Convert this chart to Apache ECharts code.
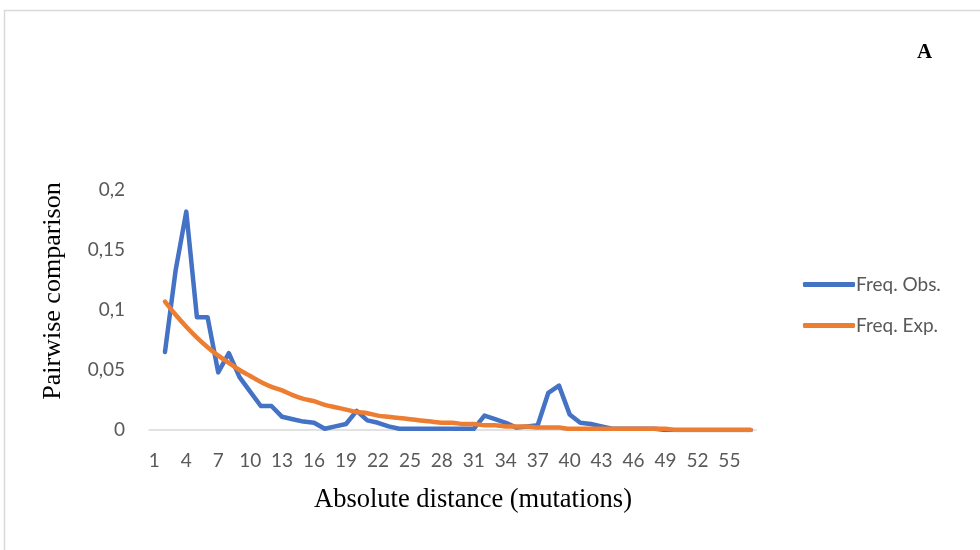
<!DOCTYPE html>
<html>
<head>
<meta charset="utf-8">
<script src="https://cdn.jsdelivr.net/npm/echarts@6/dist/echarts.min.js"></script>
<style>
html,body{margin:0;padding:0;background:#fff;}
#chart{width:980px;height:550px;}
</style>
</head>
<body>
<div id="chart"></div>
<script>
// Categories: absolute distance (mutations) 1..57
var categories = [];
for (var i = 1; i <= 57; i++) categories.push(String(i));

// Observed frequency (cat 1 .. 57)
var freqObs = [
  null, 0.065, 0.133, 0.182, 0.094, 0.094, 0.048, 0.064, 0.044, 0.032,
  0.020, 0.020, 0.011, 0.009, 0.007, 0.006, 0.001, 0.003, 0.005, 0.016,
  0.008, 0.006, 0.003, 0.001, 0.001, 0.001, 0.001, 0.001, 0.001, 0.001,
  0.001, 0.012, 0.009, 0.006, 0.002, 0.003, 0.004, 0.031, 0.037, 0.013,
  0.006, 0.005, 0.003, 0.001, 0.001, 0.001, 0.001, 0.001, 0, 0,
  0, 0, 0, 0, 0, 0, 0
];

// Expected frequency (cat 1 .. 57)
var freqExp = [
  null, 0.107, 0.096, 0.086, 0.077, 0.069, 0.062, 0.056, 0.050, 0.045,
  0.040, 0.036, 0.033, 0.029, 0.026, 0.024, 0.021, 0.019, 0.017, 0.015,
  0.014, 0.012, 0.011, 0.010, 0.009, 0.008, 0.007, 0.006, 0.006, 0.005,
  0.005, 0.004, 0.004, 0.003, 0.003, 0.003, 0.002, 0.002, 0.002, 0.001,
  0.001, 0.001, 0.001, 0.001, 0.001, 0.001, 0.001, 0.001, 0.001, 0,
  0, 0, 0, 0, 0, 0, 0
];

var yTicks = [0, 0.05, 0.1, 0.15, 0.2];

var chart = echarts.init(document.getElementById('chart'), null, {renderer: 'canvas'});
var grey = '#595959';
var labelFont = 'Lato, "Open Sans", sans-serif';
var serif = '"Liberation Serif", "DejaVu Serif", serif';

chart.setOption({
  animation: false,
  backgroundColor: '#fff',
  graphic: [
    {type: 'rect', shape: {x: 4.5, y: 10.5, width: 1000, height: 600},
     style: {fill: 'none', stroke: '#d9d9d9', lineWidth: 1.5}, silent: true},
    {type: 'text', left: 917, top: 42,
     style: {text: 'A', font: 'bold 21px ' + serif, fill: '#000'}},
    {type: 'text', x: 53, y: 291, rotation: Math.PI / 2,
     style: {text: 'Pairwise comparison', font: '26px ' + serif, fill: '#000',
             align: 'center', verticalAlign: 'middle'}},
    {type: 'text', x: 473, y: 500,
     style: {text: 'Absolute distance (mutations)', font: '26.5px ' + serif, fill: '#000',
             align: 'center', verticalAlign: 'middle'}}
  ],
  grid: {left: 149, right: 224, top: 190, bottom: 120, containLabel: false},
  legend: {
    orient: 'vertical', left: 798, top: 270,
    itemWidth: 52, itemHeight: 5, itemGap: 22,
    icon: 'roundRect',
    textStyle: {color: grey, fontSize: 19, fontFamily: labelFont, padding: [0, 0, 0, -4]},
    data: ['Freq. Obs.', 'Freq. Exp.']
  },
  xAxis: {
    type: 'category',
    data: categories,
    boundaryGap: true,
    axisLine: {show: true, lineStyle: {color: '#d9d9d9', width: 1.5}},
    axisTick: {show: false},
    axisLabel: {interval: 2, color: grey, fontSize: 19, fontFamily: labelFont, margin: 21},
    splitLine: {show: false}
  },
  yAxis: {
    type: 'value',
    min: 0, max: 0.2, interval: 0.05,
    axisLine: {show: false},
    axisTick: {show: false},
    splitLine: {show: false},
    axisLabel: {
      color: grey, fontSize: 19, fontFamily: labelFont, margin: 24,
      formatter: function (v) { return String(v).replace('.', ','); }
    }
  },
  series: [
    {name: 'Freq. Obs.', type: 'line', data: freqObs, showSymbol: false, symbol: 'none',
     lineStyle: {color: '#4472C4', width: 4.5, cap: 'round', join: 'round'},
     itemStyle: {color: '#4472C4'}, z: 2},
    {name: 'Freq. Exp.', type: 'line', data: freqExp, showSymbol: false, symbol: 'none', smooth: 0.3,
     lineStyle: {color: '#ED7D31', width: 4.5, cap: 'round', join: 'round'},
     itemStyle: {color: '#ED7D31'}, z: 3}
  ]
});
</script>
</body>
</html>
